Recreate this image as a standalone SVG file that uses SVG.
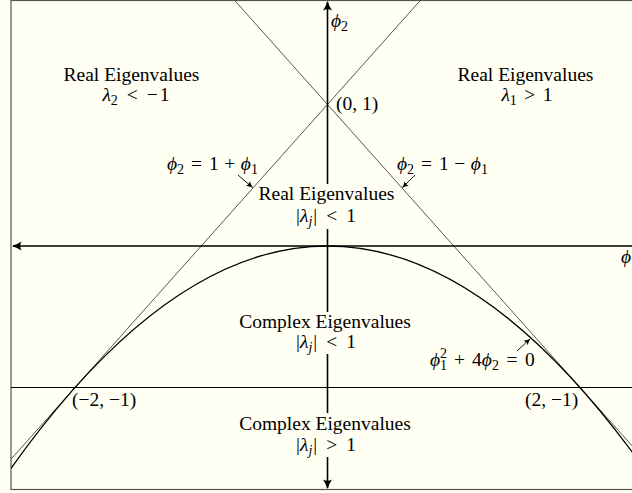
<svg xmlns="http://www.w3.org/2000/svg" width="632" height="493" viewBox="0 0 632 493">
  <style>
    .t { font-family: "Liberation Serif", "DejaVu Serif", serif; font-size: 19.5px; fill: #000; }
    .m { font-style: italic; }
    .s { font-size: 14px; }
    .bg { fill: #fffff3; stroke: none; }
    .ax { stroke: #000; stroke-width: 1.6; fill: none; }
    .ln { stroke: #444; stroke-width: 0.9; fill: none; }
    .hl { stroke: #000; stroke-width: 1; fill: none; }
    .pb { stroke: #000; stroke-width: 1.3; fill: none; }
    .an { stroke: #000; stroke-width: 0.9; fill: none; }
  </style>
  <defs>
    <clipPath id="frame">
      <rect x="11" y="0" width="640" height="489.5"/>
    </clipPath>
    <marker id="axhead" markerUnits="userSpaceOnUse" markerWidth="14" markerHeight="12" refX="10" refY="6" orient="auto-start-reverse" viewBox="0 0 14 12">
      <path d="M1.5,1.5 Q6,4.5 11,6 Q6,7.5 1.5,10.5 Q4,6 1.5,1.5 Z" fill="#000"/>
    </marker>
    <marker id="anhead" markerUnits="userSpaceOnUse" markerWidth="10" markerHeight="8" refX="7" refY="4" orient="auto" viewBox="0 0 10 8">
      <path d="M1,1 Q4,3 7.5,4 Q4,5 1,7 Q2.8,4 1,1 Z" fill="#000"/>
    </marker>
  </defs>

  <rect x="0" y="0" width="632" height="493" fill="#fffff3"/>
  <rect x="11" y="0.5" width="640" height="489" fill="#fffff3" stroke="#555" stroke-width="1.2"/>

  <g id="connectors" clip-path="url(#frame)">
    <!-- phi2 = 1 + phi1 -->
    <line class="ln" x1="11" y1="459.2" x2="420.7" y2="0"/>
    <!-- phi2 = 1 - phi1 -->
    <line class="ln" x1="234.3" y1="0" x2="644" y2="459.2"/>
    <!-- phi2 = -1 -->
    <line class="hl" x1="11" y1="387.5" x2="640" y2="387.5"/>
    <!-- parabola phi1^2 + 4 phi2 = 0 -->
    <path class="pb" d="M11,468.3 Q327.5,23.7 644,468.3"/>
    <!-- axes -->
    <line class="ax" x1="660" y1="246" x2="13" y2="246" marker-end="url(#axhead)"/>
    <line class="ax" x1="327.5" y1="488" x2="327.5" y2="2" marker-start="url(#axhead)" marker-end="url(#axhead)"/>
    <!-- annotation arrows -->
    <line class="an" x1="238" y1="175" x2="252.5" y2="187.5" marker-end="url(#anhead)"/>
    <line class="an" x1="415" y1="175" x2="402.5" y2="187.5" marker-end="url(#anhead)"/>
    <line class="an" x1="517" y1="351" x2="530" y2="339" marker-end="url(#anhead)"/>
  </g>

  <g id="label-phi2">
    <text class="t" x="331" y="27"><tspan class="m">ϕ</tspan><tspan class="s" dy="4">2</tspan></text>
  </g>
  <g id="label-phi1">
    <text class="t" x="621" y="263"><tspan class="m">ϕ</tspan></text>
  </g>
  <g id="label-origin01">
    <text class="t" x="336" y="110">(0, 1)</text>
  </g>
  <g id="region-left">
    <text class="t" x="131.5" y="81" text-anchor="middle">Real Eigenvalues</text>
    <text class="t" x="136" y="101" text-anchor="middle"><tspan class="m">λ</tspan><tspan class="s" dy="4">2</tspan><tspan dy="-4" dx="9">&lt;</tspan><tspan dx="9">−</tspan><tspan dx="2">1</tspan></text>
  </g>
  <g id="region-right">
    <text class="t" x="525.5" y="81" text-anchor="middle">Real Eigenvalues</text>
    <text class="t" x="527" y="101" text-anchor="middle"><tspan class="m">λ</tspan><tspan class="s" dy="4">1</tspan><tspan dy="-4" dx="7.5">&gt;</tspan><tspan dx="7.5">1</tspan></text>
  </g>
  <g id="line-label-left">
    <text class="t" x="167" y="170"><tspan class="m">ϕ</tspan><tspan class="s" dy="4">2</tspan><tspan dy="-4" dx="7">=</tspan><tspan dx="7">1</tspan><tspan dx="5.5">+</tspan><tspan class="m" dx="5.5">ϕ</tspan><tspan class="s" dy="4">1</tspan></text>
  </g>
  <g id="line-label-right">
    <text class="t" x="397" y="170"><tspan class="m">ϕ</tspan><tspan class="s" dy="4">2</tspan><tspan dy="-4" dx="7">=</tspan><tspan dx="7">1</tspan><tspan dx="5.5">−</tspan><tspan class="m" dx="5.5">ϕ</tspan><tspan class="s" dy="4">1</tspan></text>
  </g>
  <g id="region-center">
    <rect class="bg" x="257" y="184" width="139" height="45"/>
    <text class="t" x="326.5" y="200" text-anchor="middle">Real Eigenvalues</text>
    <text class="t" x="326" y="222" text-anchor="middle">|<tspan class="m">λ</tspan><tspan class="s m" dy="4">j</tspan><tspan dy="-4" dx="1">|</tspan><tspan dx="9">&lt;</tspan><tspan dx="9">1</tspan></text>
  </g>
  <g id="region-complex-inside">
    <rect class="bg" x="238" y="312" width="175" height="42"/>
    <text class="t" x="325" y="328" text-anchor="middle">Complex Eigenvalues</text>
    <text class="t" x="326" y="348" text-anchor="middle">|<tspan class="m">λ</tspan><tspan class="s m" dy="4">j</tspan><tspan dy="-4" dx="1">|</tspan><tspan dx="9">&lt;</tspan><tspan dx="9">1</tspan></text>
  </g>
  <g id="label-parabola">
    <text class="t" x="430" y="366"><tspan class="m">ϕ</tspan><tspan class="s" dy="-8">2</tspan><tspan class="s" dx="-7" dy="12">1</tspan><tspan dy="-4" dx="7">+</tspan><tspan dx="7">4</tspan><tspan class="m">ϕ</tspan><tspan class="s" dy="4">2</tspan><tspan dy="-4" dx="7.5">=</tspan><tspan dx="7.5">0</tspan></text>
  </g>
  <g id="label-m2m1">
    <text class="t" x="72" y="406">(−2, −1)</text>
  </g>
  <g id="label-2m1">
    <text class="t" x="525" y="406">(2, −1)</text>
  </g>
  <g id="region-complex-outside">
    <rect class="bg" x="238" y="413" width="175" height="44"/>
    <text class="t" x="325" y="430" text-anchor="middle">Complex Eigenvalues</text>
    <text class="t" x="326" y="451" text-anchor="middle">|<tspan class="m">λ</tspan><tspan class="s m" dy="4">j</tspan><tspan dy="-4" dx="1">|</tspan><tspan dx="9">&gt;</tspan><tspan dx="9">1</tspan></text>
  </g>
</svg>
